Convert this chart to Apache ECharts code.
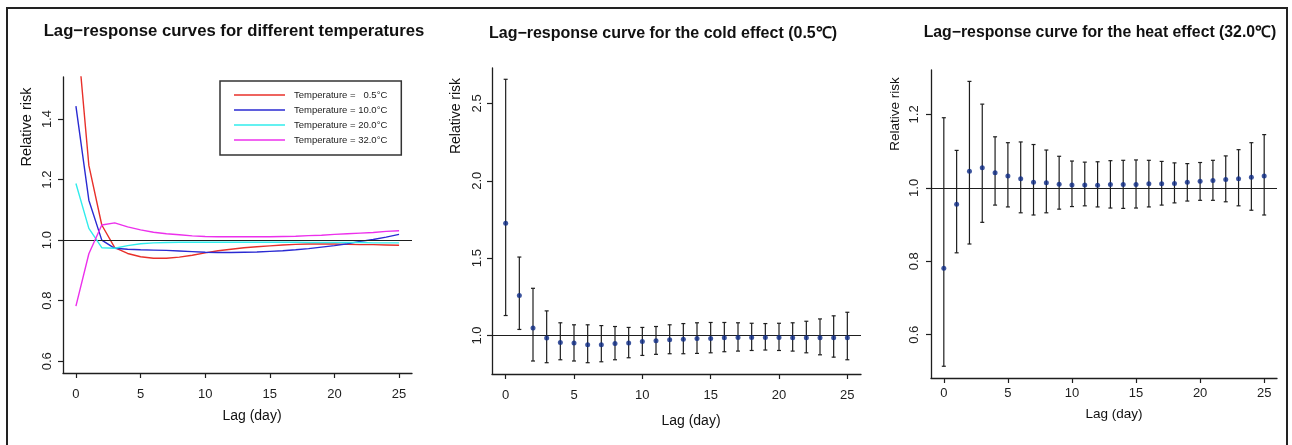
<!DOCTYPE html>
<html>
<head>
<meta charset="utf-8">
<script src="https://cdn.jsdelivr.net/npm/echarts@6/dist/echarts.min.js"></script>
<style>
html,body{margin:0;padding:0;background:#fff;}
#c{width:1292px;height:445px;}
</style>
</head>
<body>
<div id="c"></div>
<script>
// ---- data ----
const lags = [0,1,2,3,4,5,6,7,8,9,10,11,12,13,14,15,16,17,18,19,20,21,22,23,24,25];
const xTicks = [0,5,10,15,20,25];
const leftYTicks = [0.6,0.8,1.0,1.2,1.4];
const coldYTicks = [1.0,1.5,2.0,2.5];
const heatYTicks = [0.6,0.8,1.0,1.2];

const legendNames = ['Temperature =   0.5°C','Temperature = 10.0°C','Temperature = 20.0°C','Temperature = 32.0°C'];
const leftRed     = [1.73,1.247,1.05,0.975,0.956,0.945,0.94,0.94,0.944,0.95,0.958,0.965,0.97,0.975,0.978,0.981,0.984,0.986,0.987,0.987,0.987,0.986,0.985,0.985,0.984,0.983];
const leftBlue    = [1.443,1.132,1.0,0.973,0.97,0.968,0.967,0.966,0.964,0.962,0.96,0.959,0.959,0.96,0.961,0.963,0.965,0.968,0.972,0.977,0.982,0.988,0.996,1.002,1.01,1.019];
const leftCyan    = [1.187,1.039,0.975,0.973,0.982,0.988,0.991,0.992,0.993,0.993,0.993,0.993,0.993,0.993,0.993,0.993,0.993,0.993,0.992,0.992,0.992,0.992,0.992,0.991,0.991,0.991];
const leftMagenta = [0.782,0.955,1.05,1.057,1.044,1.034,1.026,1.021,1.018,1.014,1.012,1.011,1.011,1.011,1.011,1.011,1.012,1.013,1.015,1.016,1.019,1.021,1.023,1.025,1.029,1.031];

const coldRR   = [1.726,1.258,1.049,0.983,0.955,0.951,0.94,0.94,0.948,0.951,0.961,0.966,0.972,0.976,0.981,0.981,0.985,0.987,0.987,0.987,0.987,0.985,0.985,0.985,0.985,0.985];
const coldHigh = [2.656,1.507,1.305,1.159,1.082,1.069,1.069,1.064,1.058,1.052,1.052,1.058,1.069,1.077,1.082,1.084,1.084,1.082,1.079,1.077,1.079,1.082,1.092,1.107,1.127,1.15];
const coldLow  = [1.129,1.039,0.835,0.824,0.843,0.835,0.824,0.83,0.843,0.856,0.871,0.878,0.882,0.882,0.884,0.888,0.895,0.899,0.903,0.906,0.903,0.899,0.888,0.875,0.86,0.843];

const heatRR   = [0.781,0.955,1.045,1.055,1.041,1.032,1.025,1.015,1.014,1.01,1.008,1.008,1.007,1.009,1.009,1.009,1.011,1.011,1.012,1.015,1.018,1.02,1.023,1.025,1.029,1.032];
const heatHigh = [1.191,1.102,1.29,1.228,1.139,1.123,1.125,1.118,1.103,1.086,1.073,1.07,1.071,1.074,1.075,1.076,1.075,1.072,1.068,1.066,1.069,1.075,1.087,1.104,1.123,1.145];
const heatLow  = [0.514,0.823,0.847,0.906,0.953,0.948,0.932,0.926,0.932,0.942,0.949,0.951,0.948,0.945,0.944,0.945,0.948,0.953,0.959,0.964,0.966,0.966,0.962,0.951,0.939,0.926];

// ---- chart ----
const FONT = '"Liberation Sans", Arial, Helvetica, sans-serif';
const INK = '#1e1e1e';

function xAxisCfg(gi, margin){
  return {
    type:'value', gridIndex:gi, min:-1, max:26,
    splitLine:{show:false},
    axisLine:{show:true, onZero:false, lineStyle:{color:INK, width:1.3}},
    axisTick:{show:true, length:5, customValues:xTicks, lineStyle:{color:INK, width:1.2}},
    axisLabel:{show:true, customValues:xTicks, margin:margin, color:INK, fontSize:13, fontFamily:FONT}
  };
}
function yAxisCfg(gi, min, max, ticks, margin){
  return {
    type:'value', gridIndex:gi, min:min, max:max,
    splitLine:{show:false},
    axisLine:{show:true, onZero:false, lineStyle:{color:INK, width:1.3}},
    axisTick:{show:true, length:5, customValues:ticks, lineStyle:{color:INK, width:1.2}},
    axisLabel:{show:true, customValues:ticks, rotate:90, margin:margin, color:INK, fontSize:13, fontFamily:FONT,
      formatter:(v)=>v.toFixed(1)}
  };
}
function pairs(ys){ return lags.map((l,i)=>[l, ys[i]]); }
function triples(lo, hi){ return lags.map((l,i)=>[l, lo[i], hi[i]]); }

const refLine = {
  silent:true, symbol:['none','none'], label:{show:false},
  lineStyle:{color:INK, type:'solid', width:1.2},
  data:[{yAxis:1}], animation:false
};

function errBars(gi){
  return function(params, api){
    const x = api.value(0);
    const p1 = api.coord([x, api.value(1)]);
    const p2 = api.coord([x, api.value(2)]);
    const cap = 2;
    const st = {stroke:INK, lineWidth:1.2};
    return {type:'group', children:[
      {type:'line', shape:{x1:p1[0], y1:p1[1], x2:p2[0], y2:p2[1]}, style:st},
      {type:'line', shape:{x1:p1[0]-cap, y1:p1[1], x2:p1[0]+cap, y2:p1[1]}, style:st},
      {type:'line', shape:{x1:p2[0]-cap, y1:p2[1], x2:p2[0]+cap, y2:p2[1]}, style:st}
    ]};
  };
}

const lineColors = ['#e8302a','#2a2ad2','#30ecec','#ec30ec'];
const leftData = [leftRed, leftBlue, leftCyan, leftMagenta];

const series = [];
leftData.forEach((d,i)=>{
  series.push({
    name:legendNames[i], type:'line', xAxisIndex:0, yAxisIndex:0,
    data:pairs(d), symbol:'none', smooth:false, clip:true,
    legendIcon:'rect',
    lineStyle:{color:lineColors[i], width:1.4}, itemStyle:{color:lineColors[i]},
    z: 3 + i,
    markLine: i===0 ? refLine : undefined
  });
});
series.push({
  type:'custom', xAxisIndex:1, yAxisIndex:1, renderItem:errBars(1),
  data:triples(coldLow, coldHigh), z:2, markLine:refLine
});
series.push({
  type:'scatter', xAxisIndex:1, yAxisIndex:1, data:pairs(coldRR),
  symbol:'circle', symbolSize:5, itemStyle:{color:'#0d2a86'}, z:5
});
series.push({
  type:'custom', xAxisIndex:2, yAxisIndex:2, renderItem:errBars(2),
  data:triples(heatLow, heatHigh), z:2, markLine:refLine
});
series.push({
  type:'scatter', xAxisIndex:2, yAxisIndex:2, data:pairs(heatRR),
  symbol:'circle', symbolSize:5, itemStyle:{color:'#0d2a86'}, z:5
});

function txt(text, x, y, size, bold, rot){
  return {type:'text', x:x, y:y, rotation: rot||0, z:10, silent:true,
    style:{text:text, fill:'#111', fontSize:size, fontWeight: bold?'bold':'normal', fontFamily:FONT,
      align:'center', verticalAlign:'middle'}};
}

const option = {
  animation:false,
  backgroundColor:'#fff',
  grid:[
    {left:63, top:77, width:349, height:296},
    {left:492, top:68, width:369, height:306},
    {left:931, top:70, width:346, height:308}
  ],
  xAxis:[xAxisCfg(0,15), xAxisCfg(1,15), xAxisCfg(2,9)],
  yAxis:[
    yAxisCfg(0,0.561,1.539,leftYTicks,9),
    yAxisCfg(1,0.751,2.729,coldYTicks,8),
    yAxisCfg(2,0.482,1.321,heatYTicks,10)
  ],
  legend:{
    orient:'vertical', left:220, top:81,
    data:legendNames, icon:'rect', itemWidth:51, itemHeight:1.6, itemGap:1,
    padding:[7,14,8,14], borderColor:'#333', borderWidth:1.5,
    selectedMode:false,
    itemStyle:{borderWidth:0},
    textStyle:{fontSize:9.5, color:'#222', fontFamily:FONT, padding:[0,0,0,4], lineHeight:14}
  },
  graphic:[
    {type:'rect', shape:{x:7, y:8, width:1280, height:460}, style:{fill:'none', stroke:'#222', lineWidth:2}, silent:true, z:20},
    txt('Lag\u2212response curves for different temperatures', 234, 31, 16.7, true),
    txt('Lag\u2212response curve for the cold effect (0.5\u2103)', 663, 34, 16, true),
    txt('Lag\u2212response curve for the heat effect (32.0\u2103)', 1100, 33, 15.8, true),
    txt('Relative risk', 27, 127, 14.5, false, Math.PI/2),
    txt('Relative risk', 456, 116, 14, false, Math.PI/2),
    txt('Relative risk', 895, 114, 13.5, false, Math.PI/2),
    txt('Lag (day)', 252, 416, 14, false),
    txt('Lag (day)', 691, 421, 14, false),
    txt('Lag (day)', 1114, 414, 13.5, false)
  ],
  series:series
};

const chart = echarts.init(document.getElementById('c'), null, {renderer:'canvas'});
chart.setOption(option);
</script>
</body>
</html>
